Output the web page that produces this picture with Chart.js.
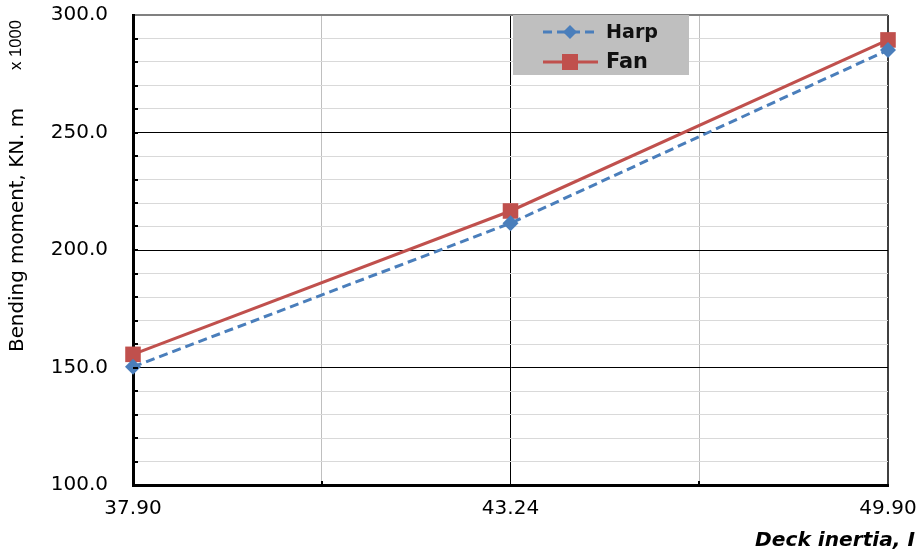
<!DOCTYPE html>
<html>
<head>
<meta charset="utf-8">
<script src="https://cdn.jsdelivr.net/npm/chart.js@4.4.1/dist/chart.umd.min.js"></script>
<style>
html,body{margin:0;padding:0;background:#fff;}
#wrap{width:924px;height:555px;position:relative;}
</style>
</head>
<body>
<div id="wrap"><canvas id="c" width="924" height="555"></canvas></div>
<script>
const categories = ["37.90", "43.24", "49.90"];
const harpValues = [150.3, 211.4, 285.1];
const fanValues = [155.6, 216.6, 289.4];
const yTickLabels = [100, 150, 200, 250, 300];
const seriesNames = ["Harp", "Fan"];
const yTitle = "Bending moment, KN. m";
const yUnit = "x 1000";
const xTitle = "Deck inertia, I";

const toPoints = arr => arr.map((v, i) => ({x: i, y: v}));

// choose font size so the text reaches the target width
function fitText(ctx, text, style, family, targetW) {
  ctx.letterSpacing = '0px';
  ctx.font = style + ' 20px ' + family;
  const w = ctx.measureText(text).width;
  const size = 20 * targetW / w;
  ctx.font = style + ' ' + size.toFixed(2) + 'px ' + family;
}

const extras = {
  id: 'extras',
  afterDatasetsDraw(chart) {
    const ctx = chart.ctx;
    const xs = chart.scales.x, ys = chart.scales.y;
    const area = chart.chartArea;
    ctx.save();
    ctx.strokeStyle = '#000';
    ctx.lineWidth = 2;
    for (let v = 110; v < 300; v += 10) {
      const py = Math.round(ys.getPixelForValue(v));
      ctx.beginPath(); ctx.moveTo(area.left, py); ctx.lineTo(area.left + 5, py); ctx.stroke();
    }
    for (let v = 0.5; v < 2; v += 1) {
      const px = Math.round(xs.getPixelForValue(v));
      ctx.beginPath(); ctx.moveTo(px, area.bottom); ctx.lineTo(px, area.bottom - 4); ctx.stroke();
    }
    // legend box
    const lx = 513, ly = 15, lw = 176, lh = 60;
    ctx.fillStyle = '#bfbfbf';
    ctx.fillRect(lx, ly, lw, lh);
    const items = [
      {name: seriesNames[0], ds: chart.data.datasets[0], cy: 32, w: 52},
      {name: seriesNames[1], ds: chart.data.datasets[1], cy: 62, w: 42}
    ];
    items.forEach(it => {
      ctx.strokeStyle = it.ds.borderColor;
      ctx.lineWidth = 3;
      ctx.setLineDash(it.ds.borderDash || []);
      ctx.beginPath(); ctx.moveTo(543, it.cy); ctx.lineTo(598, it.cy); ctx.stroke();
      ctx.setLineDash([]);
      ctx.fillStyle = it.ds.pointBackgroundColor;
      const cx = 570;
      if (it.ds.pointStyle === 'rectRot') {
        ctx.beginPath();
        ctx.moveTo(cx, it.cy - 7); ctx.lineTo(cx + 7, it.cy); ctx.lineTo(cx, it.cy + 7); ctx.lineTo(cx - 7, it.cy);
        ctx.closePath(); ctx.fill();
      } else {
        ctx.fillRect(cx - 8, it.cy - 8, 16, 16);
      }
      ctx.fillStyle = '#111';
      fitText(ctx, it.name, 'bold', '"DejaVu Sans", sans-serif', it.w);
      ctx.textAlign = 'left';
      ctx.textBaseline = 'middle';
      ctx.fillText(it.name, 606, it.cy + 1);
    });
    // titles
    ctx.fillStyle = '#000';
    ctx.save();
    ctx.translate(18, 230);
    ctx.rotate(-Math.PI / 2);
    fitText(ctx, yTitle, 'normal', '"DejaVu Sans", sans-serif', 244);
    ctx.textAlign = 'center';
    ctx.textBaseline = 'middle';
    ctx.fillText(yTitle, 0, 0);
    ctx.restore();
    ctx.save();
    ctx.translate(16, 45);
    ctx.rotate(-Math.PI / 2);
    fitText(ctx, yUnit, 'normal', '"Liberation Sans", Arial, sans-serif', 50);
    ctx.textAlign = 'center';
    ctx.textBaseline = 'middle';
    ctx.fillText(yUnit, 0, 0);
    ctx.restore();
    fitText(ctx, xTitle, 'italic bold', '"DejaVu Sans", sans-serif', 160);
    ctx.textAlign = 'right';
    ctx.textBaseline = 'middle';
    ctx.fillText(xTitle, 915, 541);
    ctx.restore();
  }
};

const tickFont = {family: '"DejaVu Sans", sans-serif', size: 20, weight: 'normal'};

new Chart(document.getElementById('c'), {
  type: 'line',
  data: {
    datasets: [
      {
        label: seriesNames[0],
        data: toPoints(harpValues),
        borderColor: '#4a7ebb',
        backgroundColor: '#4a7ebb',
        borderWidth: 3,
        borderDash: [9, 5],
        pointStyle: 'rectRot',
        pointRadius: 8,
        pointBackgroundColor: '#4a7ebb',
        pointBorderWidth: 0,
        tension: 0,
        clip: false
      },
      {
        label: seriesNames[1],
        data: toPoints(fanValues),
        borderColor: '#c0504d',
        backgroundColor: '#c0504d',
        borderWidth: 3,
        pointStyle: 'rect',
        pointRadius: 11,
        pointBackgroundColor: '#c0504d',
        pointBorderWidth: 0,
        tension: 0,
        clip: false
      }
    ]
  },
  options: {
    responsive: false,
    animation: false,
    layout: {padding: {left: 0, top: 15, right: 36, bottom: 0}},
    plugins: {legend: {display: false}, tooltip: {enabled: false}},
    scales: {
      x: {
        type: 'linear',
        min: 0, max: categories.length - 1,
        afterFit(s) { s.height = 70; s.paddingLeft = 0; s.paddingRight = 0; },
        afterBuildTicks(s) {
          const t = [];
          for (let v = 0; v <= categories.length - 1 + 1e-9; v += 0.5) t.push({value: v});
          s.ticks = t;
        },
        ticks: {
          autoSkip: false,
          maxRotation: 0,
          padding: 12,
          color: '#000',
          font: tickFont,
          callback(v) { return Number.isInteger(v) ? categories[v] : ''; }
        },
        grid: {
          drawTicks: false,
          color(c) {
            const v = c.tick.value;
            if (v === 0) return 'rgba(0,0,0,0)';
            if (v === categories.length - 1) return '#404040';
            return Number.isInteger(v) ? '#000' : '#bfbfbf';
          },
          lineWidth(c) { return c.tick.value === categories.length - 1 ? 2 : 1; }
        },
        border: {color: '#000', width: 3}
      },
      y: {
        min: 100, max: 300,
        afterFit(s) { s.width = 133; s.paddingTop = 0; s.paddingBottom = 0; },
        afterBuildTicks(s) {
          const t = [];
          for (let v = 100; v <= 300; v += 10) t.push({value: v});
          s.ticks = t;
        },
        ticks: {
          autoSkip: false,
          padding: 25,
          color: '#000',
          font: tickFont,
          callback(v) { return yTickLabels.includes(v) ? v.toFixed(1) : ''; }
        },
        grid: {
          drawTicks: false,
          color(c) {
            const v = c.tick.value;
            if (v === 300) return '#808080';
            return v % 50 === 0 ? '#000' : '#d9d9d9';
          },
          lineWidth(c) { return c.tick.value === 300 ? 2 : 1; }
        },
        border: {color: '#000', width: 3}
      }
    }
  },
  plugins: [extras]
});
</script>
</body>
</html>
